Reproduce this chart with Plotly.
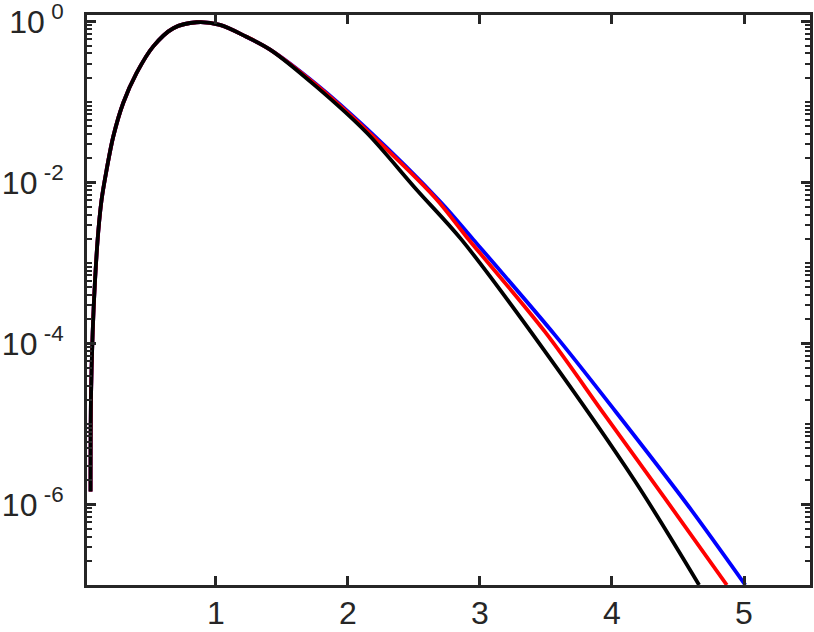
import plotly.graph_objects as go

# ---- data (x, y) ----
x_black = [0.050, 0.053, 0.066, 0.083, 0.108, 0.134, 0.172, 0.222, 0.298, 0.399,
           0.525, 0.677, 0.854, 1.03, 1.23, 1.41, 1.76, 2.14, 2.52, 2.86,
           3.48, 4.17, 4.66]
y_black = [1.45e-6, 2.04e-5, 1.38e-4, 5.75e-4, 2.40e-3, 6.17e-3, 1.45e-2, 3.72e-2, 9.77e-2, 0.229,
           0.490, 0.824, 0.977, 0.906, 0.646, 0.447, 0.155, 0.0417, 8.13e-3, 1.95e-3,
           8.51e-5, 2.00e-6, 1.0e-7]

x_red = [0.050, 0.053, 0.066, 0.083, 0.108, 0.134, 0.172, 0.222, 0.298, 0.399,
         0.525, 0.677, 0.854, 1.03, 1.23, 1.41, 1.76, 2.14, 2.66, 2.90,
         3.49, 3.95, 4.40, 4.87]
y_red = [1.45e-6, 2.04e-5, 1.38e-4, 5.75e-4, 2.40e-3, 6.17e-3, 1.45e-2, 3.72e-2, 9.77e-2, 0.229,
         0.490, 0.824, 0.977, 0.906, 0.646, 0.447, 0.162, 0.0447, 6.46e-3, 2.09e-3,
         1.41e-4, 1.26e-5, 1.20e-6, 1.0e-7]

x_blue = [0.050, 0.053, 0.066, 0.083, 0.108, 0.134, 0.172, 0.222, 0.298, 0.399,
          0.525, 0.677, 0.854, 1.03, 1.23, 1.41, 1.76, 2.14, 2.70, 2.95,
          3.57, 4.03, 4.57, 5.01]
y_blue = [1.45e-6, 2.04e-5, 1.38e-4, 5.75e-4, 2.40e-3, 6.17e-3, 1.45e-2, 3.72e-2, 9.77e-2, 0.229,
          0.490, 0.824, 0.977, 0.906, 0.646, 0.447, 0.166, 0.0468, 5.75e-3, 1.95e-3,
          1.26e-4, 1.41e-5, 1.00e-6, 1.0e-7]

x_ticks = [1, 2, 3, 4, 5]
x_tick_labels = ["1", "2", "3", "4", "5"]
y_ticks = [1, 1e-2, 1e-4, 1e-6]
y_tick_labels = ["10<sup> 0</sup>", "10<sup> -2</sup>", "10<sup> -4</sup>", "10<sup> -6</sup>"]

AX = "#262626"
FONT = "Liberation Sans, Arial, sans-serif"

minor_vals = []
for e in range(-7, 1):
    if e % 2 != 0:
        minor_vals.append(10.0 ** e)
    for k in range(2, 10):
        minor_vals.append(k * 10.0 ** e)

fig = go.Figure()
for xs, ys, col in [(x_blue, y_blue, "#0000ff"), (x_red, y_red, "#ff0000"), (x_black, y_black, "#000000")]:
    fig.add_trace(go.Scatter(x=xs, y=ys, mode="lines",
                             line=dict(color=col, width=3.8, shape="spline", smoothing=0.9),
                             showlegend=False, hoverinfo="skip"))

fig.update_layout(
    width=814, height=632,
    margin=dict(l=87, r=4, t=15, b=47, autoexpand=False),
    paper_bgcolor="white", plot_bgcolor="white",
    font=dict(family=FONT, size=32, color=AX),
    showlegend=False,
)
fig.update_xaxes(
    range=[0.023, 5.5], showgrid=False, zeroline=False, automargin=False,
    showline=True, linewidth=3, linecolor=AX, mirror="allticks",
    ticks="inside", ticklen=9, tickwidth=2.5, tickcolor=AX,
    tickmode="array", tickvals=x_ticks, ticktext=x_tick_labels,
    tickfont=dict(family=FONT, size=32, color=AX), ticklabelstandoff=-2,
    ticklabeloverflow="allow",
)
fig.update_yaxes(
    type="log", range=[-7, 0.08], showgrid=False, zeroline=False, automargin=False,
    showline=True, linewidth=3, linecolor=AX, mirror="allticks",
    ticks="inside", ticklen=9, tickwidth=2.5, tickcolor=AX,
    tickmode="array", tickvals=y_ticks, ticktext=y_tick_labels,
    tickfont=dict(family=FONT, size=32, color=AX), ticklabelstandoff=14,
    ticklabeloverflow="allow",
    minor=dict(ticks="inside", ticklen=5, tickwidth=2, tickcolor=AX,
               tickmode="array", tickvals=minor_vals, showgrid=False),
)

# remove the default 8px page margin so the 814x632 figure fills the window
fig.write_html("out.html", config={"displayModeBar": False},
               post_script="document.body.style.margin='0px';")
